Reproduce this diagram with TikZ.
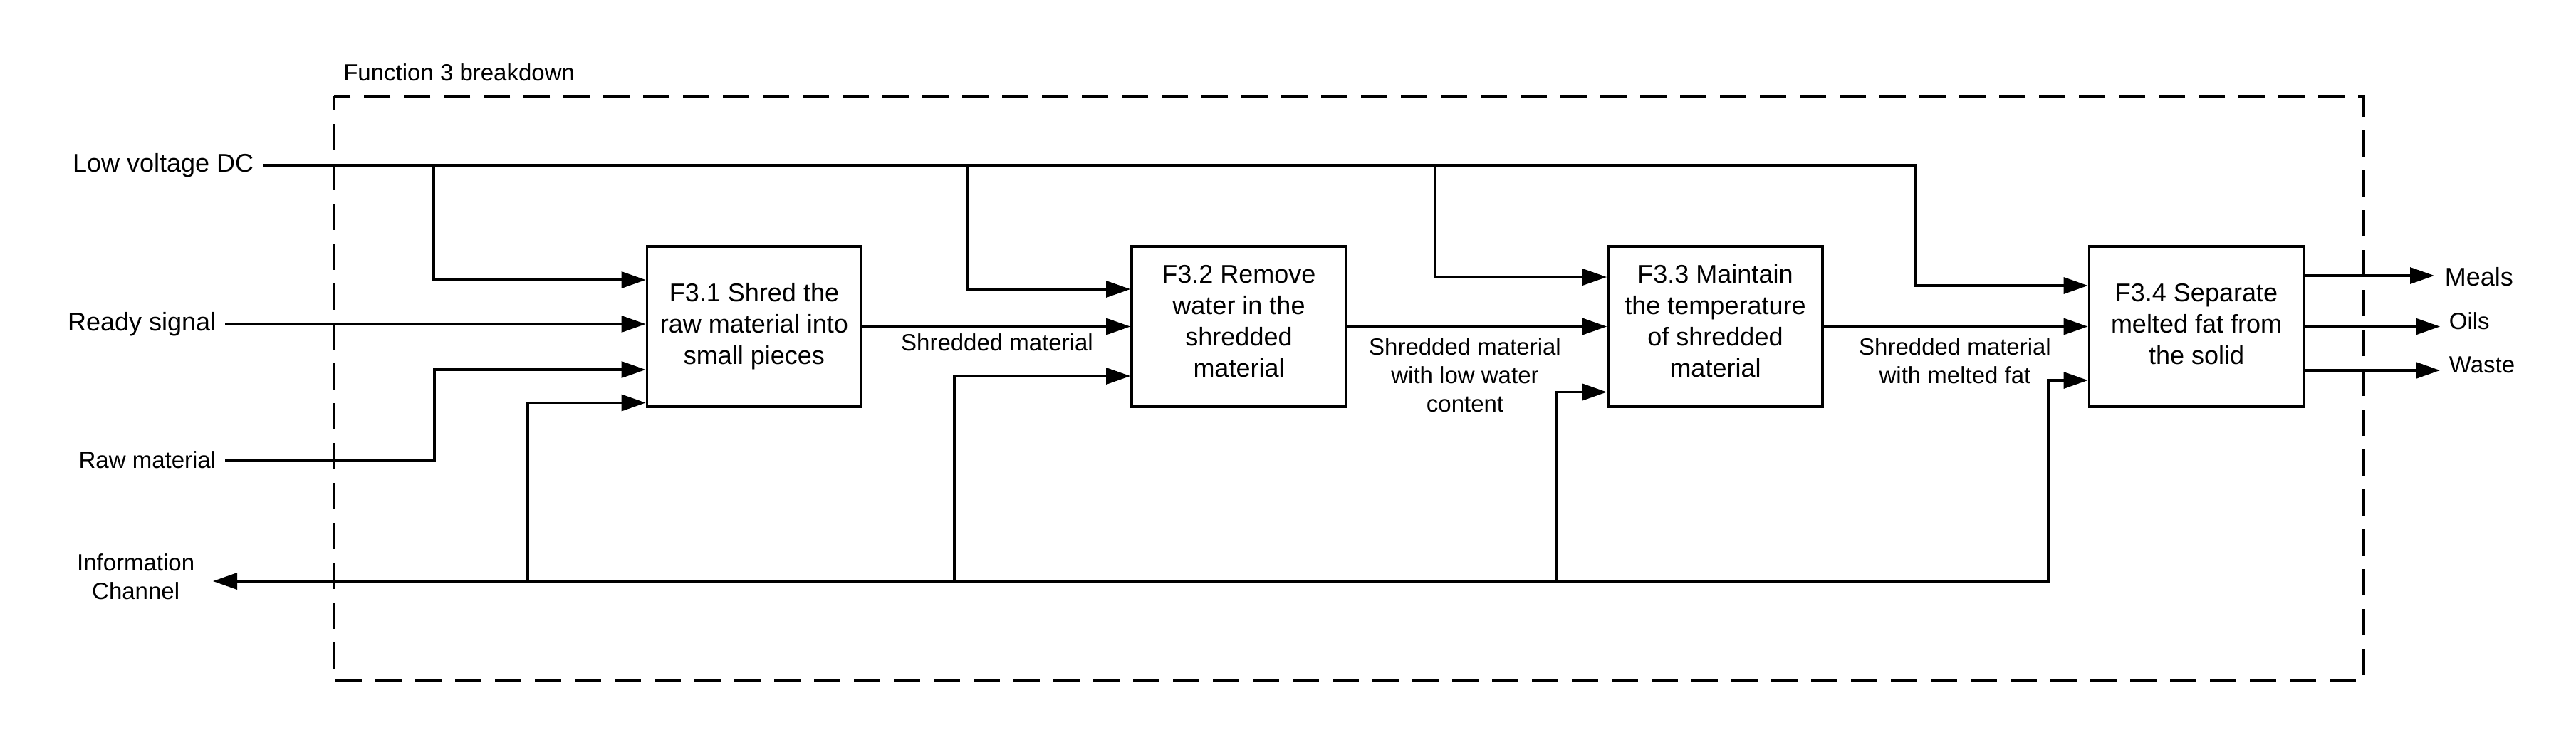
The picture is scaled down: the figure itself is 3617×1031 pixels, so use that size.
\documentclass[tikz,border=0pt]{standalone}
\usepackage{fontspec}
\setmainfont{Liberation Sans}
\usetikzlibrary{arrows.meta}
\newcommand\boxfont{\fontsize{9}{11}\selectfont}
\newcommand\lblfont{\fontsize{8.25}{10}\selectfont}
\newcommand\bigfont{\fontsize{9}{11}\selectfont}
\begin{document}
\begin{tikzpicture}[x=0.25pt,y=-0.25pt,
  box/.style={draw, line width=0.95pt, minimum width=75.25pt, minimum height=56.25pt,
    inner sep=0pt, align=center, font=\boxfont, text depth=2pt},
  wire/.style={line width=0.8pt},
  flow/.style={line width=0.8pt, -{Triangle[length=8.5pt,width=5.75pt]}},
  flowboth/.style={line width=0.8pt, {Triangle[length=8.5pt,width=5.75pt]}-{Triangle[length=8.5pt,width=5.75pt]}},
  lbl/.style={font=\lblfont, align=center, inner sep=0pt},
  ext/.style={inner xsep=3pt, inner ysep=0pt},
  frame/.style={line width=1pt, dash pattern=on 9.25pt off 4.75pt, dash phase=4.25pt}]
\useasboundingbox (0,0) rectangle (3617,1031);
\fill[white] (0,0) rectangle (3617,1031);

% frame
\draw[frame] (469,135) rectangle (3319,956);
\node[font=\lblfont, anchor=base west, inner sep=0pt] (title) at (481.5,113.3) {Function 3 breakdown};

% function boxes
\node[box] (f31) at (1059,458.5) {F3.1 Shred the\\raw material into\\small pieces};
\node[box, text depth=4pt] (f32) at (1739.5,458.5) {F3.2 Remove\\water in the\\shredded\\material};
\node[box, text depth=4pt] (f33) at (2408.5,458.5) {F3.3 Maintain\\the temperature\\of shredded\\material};
\node[box] (f34) at (3084,458.5) {F3.4 Separate\\melted fat from\\the solid};

% external inputs
\node[ext, font=\bigfont, anchor=east] (lv) at (369,232) {Low voltage DC};
\node[ext, font=\bigfont, anchor=east] (ready) at (316,455) {Ready signal};
\node[ext, font=\lblfont, anchor=east] (raw) at (316,646) {Raw material};
\node[ext, font=\lblfont, align=center, inner xsep=6.25pt, text depth=3pt, anchor=east] (info) at (299,816) {Information\\Channel};

% low voltage DC distribution
\coordinate (b1) at (609,232);
\coordinate (b2) at (1359,232);
\coordinate (b3) at (2015,232);
\coordinate (b4) at (2690,232);
\draw[flow] (lv.east) -- (b4) |- ([yshift=14.375pt]f34.west);
\draw[flow] (b1) |- ([yshift=16.375pt]f31.west);
\draw[flow] (b2) |- ([yshift=13.125pt]f32.west);
\draw[flow] (b3) |- ([yshift=17.375pt]f33.west);

% ready signal and raw material
\draw[flow] (ready.east) -- ([yshift=0.875pt]f31.west);
\coordinate (r1) at (610,646);
\draw[flow] (raw.east) -- (r1) |- ([yshift=-15.125pt]f31.west);

% main material flow
\draw[flow] (f31.east) -- (f32.west);
\draw[flow] (f32.east) -- (f33.west);
\draw[flow] (f33.east) -- (f34.west);
\node[lbl, anchor=base] (l12) at (1400,492.5) {Shredded material};
\node[lbl] (l23) at (2057,527) {Shredded material\\with low water\\content};
\node[lbl] (l34) at (2745,507) {Shredded material\\with melted fat};

% information channel
\coordinate (i1) at (741,816);
\coordinate (i2) at (1340,816);
\coordinate (i3) at (2185,816);
\coordinate (i4) at (2876,816);
\draw[flowboth] ([yshift=-18.875pt]f34.west) -| (i4) -- (info.east);
\draw[flow] (i1) |- ([yshift=-26.75pt]f31.west);
\draw[flow] (i2) |- ([yshift=-17.375pt]f32.west);
\draw[flow] (i3) |- ([yshift=-23pt]f33.west);

% outputs
\coordinate (meals) at (3418,387);
\coordinate (oils) at (3426,458.5);
\coordinate (waste) at (3426,520);
\draw[flow] ([yshift=17.875pt]f34.east) -- (meals);
\draw[flow] (f34.east) -- (oils);
\draw[flow] ([yshift=-15.375pt]f34.east) -- (waste);
\node[font=\bigfont, anchor=base west, inner sep=0pt] (tmeals) at (3432,401) {Meals};
\node[font=\lblfont, anchor=base west, inner sep=0pt] (toils) at (3438,462) {Oils};
\node[font=\lblfont, anchor=base west, inner sep=0pt] (twaste) at (3438,523) {Waste};
\end{tikzpicture}
\end{document}
